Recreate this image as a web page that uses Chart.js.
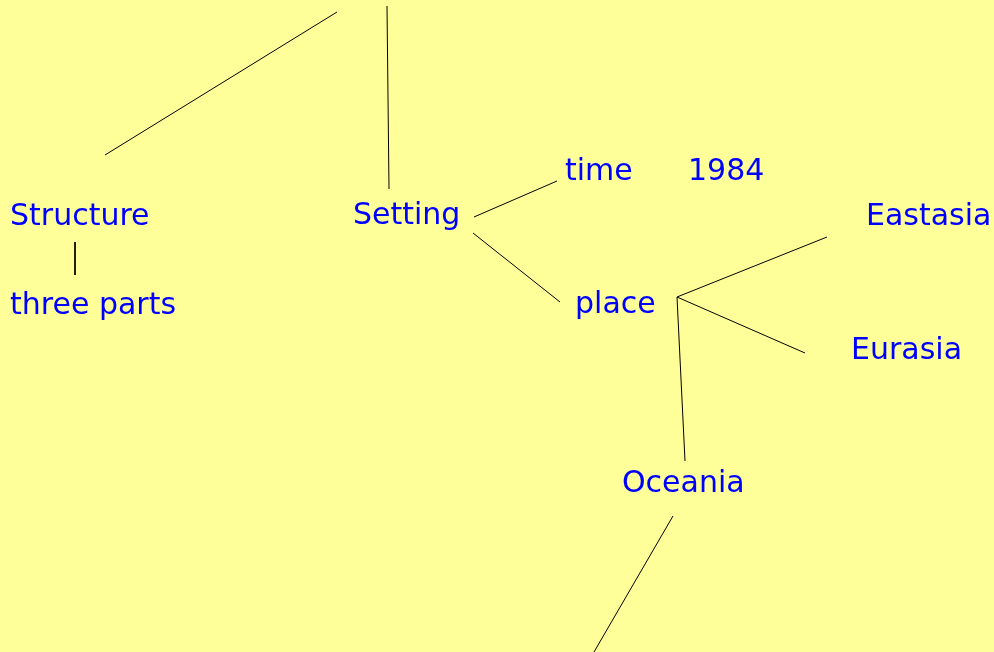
<!DOCTYPE html>
<html>
<head>
<meta charset="utf-8">
<script src="https://cdn.jsdelivr.net/npm/chart.js@4/dist/chart.umd.min.js"></script>
<style>
    html, body { margin: 0; padding: 0; background: #FFFF99; }
    #wrap { width: 994px; height: 652px; position: relative; }
</style>
</head>
<body>
<div id="wrap"><canvas id="map"></canvas></div>
<script>
// ════════════════════════════════════════
// MIND MAP: 1984 — Structure / Setting
// nodes + connector segments in diagram units
// ════════════════════════════════════════

const nodeLabels = ['Structure', 'three parts', 'Setting', 'time', '1984', 'place', 'Eastasia', 'Eurasia', 'Oceania'];
const nodeX      = [10, 10, 353, 565, 688, 575, 866, 851, 622];
const nodeY      = [225, 314, 224, 180, 180, 313, 225, 359, 492]; // text baselines

const edgeX1 = [337, 387, 75, 474, 473, 677, 677, 677, 673];
const edgeY1 = [12, 6, 242, 217, 233, 297, 297, 297, 516];
const edgeX2 = [105, 389, 75, 557, 560, 827, 805, 685, 594];
const edgeY2 = [155, 189, 275, 181, 302, 237, 353, 461, 652];

const FONT = "'Comic Sans MS', 'DejaVu Sans', sans-serif";

// draws each node label at its point through the scales
const nodeLabelPlugin = {
    id: 'nodeLabels',
    afterDatasetsDraw(chart) {
        const { ctx, scales: { x, y } } = chart;
        ctx.save();
        ctx.font = `30px ${FONT}`;
        ctx.fillStyle = '#0000FF';
        ctx.textAlign = 'left';
        ctx.textBaseline = 'alphabetic';
        nodeLabels.forEach((txt, i) => {
            ctx.fillText(txt, x.getPixelForValue(nodeX[i]), y.getPixelForValue(nodeY[i]));
        });
        ctx.restore();
    }
};

const edgeSets = edgeX1.map((_, i) => ({
    type: 'line',
    data: [{ x: edgeX1[i], y: edgeY1[i] }, { x: edgeX2[i], y: edgeY2[i] }],
    borderColor: '#000000',
    borderWidth: 1,
    pointRadius: 0,
    fill: false,
    tension: 0,
}));

const anchorSet = {
    type: 'scatter',
    data: nodeLabels.map((_, i) => ({ x: nodeX[i], y: nodeY[i] })),
    pointRadius: 0,
};

new Chart(document.getElementById('map'), {
    type: 'scatter',
    data: { datasets: [...edgeSets, anchorSet] },
    options: {
        responsive: true,
        maintainAspectRatio: false,
        animation: false,
        layout: { padding: 0 },
        plugins: { legend: { display: false }, tooltip: { enabled: false } },
        scales: {
            x: { type: 'linear', min: 0, max: 994, display: false },
            y: { type: 'linear', min: 0, max: 652, reverse: true, display: false },
        }
    },
    plugins: [nodeLabelPlugin]
});
</script>
</body>
</html>
